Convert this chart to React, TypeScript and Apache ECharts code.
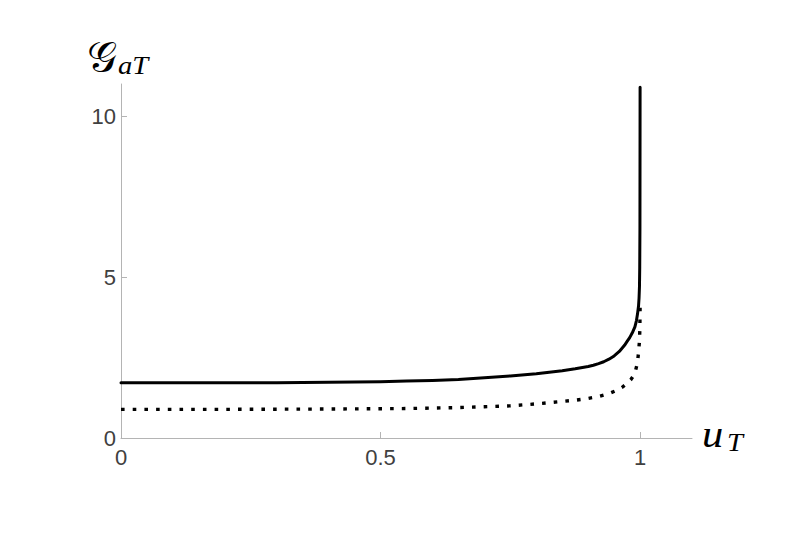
import React, { useEffect, useRef } from "react";
import * as echarts from "echarts";

const solidU = [0, 0.1, 0.2, 0.3, 0.35, 0.4, 0.45, 0.5, 0.55, 0.6, 0.65, 0.7, 0.75, 0.8, 0.85, 0.875, 0.9, 0.91, 0.92, 0.93, 0.94, 0.95, 0.96, 0.97, 0.975, 0.98, 0.985, 0.99, 0.993, 0.995, 0.997, 0.998, 0.9988, 0.9993, 0.9997, 1.0];
const solidG = [1.72, 1.72, 1.72, 1.72, 1.725, 1.73, 1.74, 1.75, 1.77, 1.79, 1.82, 1.87, 1.93, 2.0, 2.09, 2.15, 2.22, 2.26, 2.31, 2.37, 2.45, 2.55, 2.69, 2.88, 3.0, 3.12, 3.27, 3.45, 3.65, 3.85, 4.1, 4.35, 4.7, 5.3, 6.5, 10.9];
const dottedU = [0, 0.2, 0.4, 0.5, 0.55, 0.6, 0.65, 0.7, 0.75, 0.8, 0.82, 0.85, 0.875, 0.9, 0.92, 0.94, 0.955, 0.965, 0.975, 0.982, 0.987, 0.991, 0.994, 0.996, 0.9975, 0.9987, 0.9995, 1.0];
const dottedG = [0.89, 0.89, 0.9, 0.91, 0.915, 0.93, 0.945, 0.97, 1.0, 1.06, 1.09, 1.135, 1.175, 1.23, 1.29, 1.38, 1.48, 1.57, 1.7, 1.81, 1.93, 2.08, 2.28, 2.5, 2.75, 3.0, 3.35, 4.05];
const xTicks = [0, 0.5, 1];
const yTicks = [0, 5, 10];
const xTickLabels = ["0", "0.5", "1"];
const yTickLabels = ["0", "5", "10"];

const axisGray = "#b4b4b4";
const labelColor = "#404040";

export default function App() {
  const ref = useRef<HTMLDivElement>(null);
  useEffect(() => {
    document.body.style.margin = "0";
    const chart = echarts.init(ref.current!, null, { renderer: "svg" });
    const fmt = (vals: number[], labels: string[]) => (v: number) => {
      const i = vals.findIndex((t) => Math.abs(t - v) < 1e-9);
      return i >= 0 ? labels[i] : "";
    };
    chart.setOption({
      animation: false,
      backgroundColor: "#ffffff",
      grid: { left: 121, top: 84, right: 93, bottom: 117, containLabel: false },
      xAxis: {
        type: "value",
        min: 0,
        max: 1.1,
        axisLine: { show: true, onZero: false, lineStyle: { color: axisGray, width: 1 } },
        axisTick: { show: true, inside: true, length: 6, customValues: xTicks, lineStyle: { color: axisGray } },
        axisLabel: {
          customValues: xTicks,
          formatter: fmt(xTicks, xTickLabels),
          color: labelColor,
          fontSize: 22,
          fontFamily: "Liberation Sans, Arial, sans-serif",
          margin: 8,
        },
        splitLine: { show: false },
      },
      yAxis: {
        type: "value",
        min: 0,
        max: 11,
        axisLine: { show: true, onZero: false, lineStyle: { color: axisGray, width: 1 } },
        axisTick: { show: true, inside: true, length: 6, customValues: yTicks, lineStyle: { color: axisGray } },
        axisLabel: {
          customValues: yTicks,
          formatter: fmt(yTicks, yTickLabels),
          color: labelColor,
          fontSize: 22,
          fontFamily: "Liberation Sans, Arial, sans-serif",
          margin: 5,
        },
        splitLine: { show: false },
      },
      series: [
        {
          type: "line",
          data: solidU.map((u, i) => [u, solidG[i]]),
          showSymbol: false,
          symbol: "none",
          lineStyle: { color: "#000000", width: 3, join: "round", cap: "round" },
          z: 3,
        },
        {
          type: "line",
          data: dottedU.map((u, i) => [u, dottedG[i]]),
          showSymbol: false,
          symbol: "none",
          lineStyle: { color: "#000000", width: 3.4, type: [3.6, 8.1] },
          z: 2,
        },
      ],
      graphic: [
        {
          type: "text",
          x: 87,
          y: 56,
          style: {
            text: "𝒢",
            font: "normal 42px 'DejaVu Serif', 'Liberation Serif', serif",
            fill: "#000",
            align: "left",
            verticalAlign: "middle",
          },
        },
        {
          type: "text",
          x: 118,
          y: 65,
          scaleX: 1.1,
          style: {
            text: "aT",
            font: "italic normal 26px 'Liberation Serif', serif",
            fill: "#000",
            align: "left",
            verticalAlign: "middle",
          },
        },
        {
          type: "text",
          x: 702,
          y: 434,
          scaleX: 1.12,
          style: {
            text: "u",
            font: "italic normal 38px 'Liberation Serif', serif",
            fill: "#000",
            align: "left",
            verticalAlign: "middle",
          },
        },
        {
          type: "text",
          x: 727,
          y: 442,
          scaleX: 1.1,
          style: {
            text: "T",
            font: "italic normal 26px 'Liberation Serif', serif",
            fill: "#000",
            align: "left",
            verticalAlign: "middle",
          },
        },
      ],
    });
    return () => chart.dispose();
  }, []);
  return <div ref={ref} style={{ width: 785, height: 555 }} />;
}
